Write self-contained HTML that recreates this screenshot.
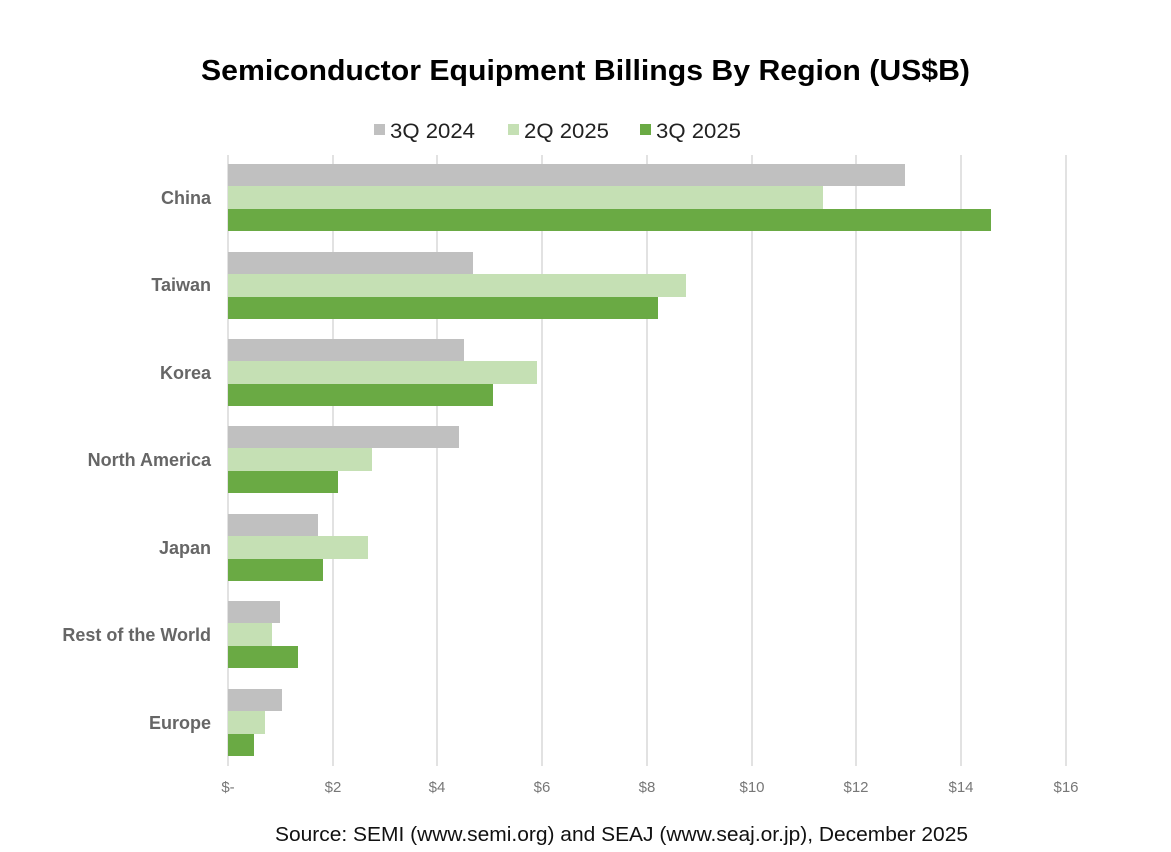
<!DOCTYPE html>
<html><head><meta charset="utf-8"><style>
html,body{margin:0;padding:0;background:#fff;}
svg{display:block;font-family:"Liberation Sans",Arial,sans-serif;}
</style></head><body>
<svg width="1171" height="852" viewBox="0 0 1171 852" xmlns="http://www.w3.org/2000/svg">
<rect width="1171" height="852" fill="#fff"/>
<text x="201" y="80" font-size="29" font-weight="bold" fill="#000" textLength="769" lengthAdjust="spacingAndGlyphs">Semiconductor Equipment Billings By Region (US$B)</text>
<rect x="374" y="124" width="11" height="11" fill="#c0c0c0"/>
<text x="390" y="138" font-size="21" fill="#222" textLength="85" lengthAdjust="spacingAndGlyphs">3Q 2024</text>
<rect x="508" y="124" width="11" height="11" fill="#c5e0b4"/>
<text x="524" y="138" font-size="21" fill="#222" textLength="85" lengthAdjust="spacingAndGlyphs">2Q 2025</text>
<rect x="640" y="124" width="11" height="11" fill="#6aaa44"/>
<text x="656" y="138" font-size="21" fill="#222" textLength="85" lengthAdjust="spacingAndGlyphs">3Q 2025</text>
<g stroke="#d9d9d9" stroke-width="1.5">
<line x1="228" y1="155" x2="228" y2="766"/>
<line x1="333" y1="155" x2="333" y2="766"/>
<line x1="437" y1="155" x2="437" y2="766"/>
<line x1="542" y1="155" x2="542" y2="766"/>
<line x1="647" y1="155" x2="647" y2="766"/>
<line x1="752" y1="155" x2="752" y2="766"/>
<line x1="856" y1="155" x2="856" y2="766"/>
<line x1="961" y1="155" x2="961" y2="766"/>
<line x1="1066" y1="155" x2="1066" y2="766"/>
</g>
<g>
<rect x="228" y="164" width="677" height="22" fill="#c0c0c0"/>
<rect x="228" y="186" width="595" height="23" fill="#c5e0b4"/>
<rect x="228" y="209" width="763" height="22" fill="#6aaa44"/>
<rect x="228" y="252" width="245" height="22" fill="#c0c0c0"/>
<rect x="228" y="274" width="458" height="23" fill="#c5e0b4"/>
<rect x="228" y="297" width="430" height="22" fill="#6aaa44"/>
<rect x="228" y="339" width="236" height="22" fill="#c0c0c0"/>
<rect x="228" y="361" width="309" height="23" fill="#c5e0b4"/>
<rect x="228" y="384" width="265" height="22" fill="#6aaa44"/>
<rect x="228" y="426" width="231" height="22" fill="#c0c0c0"/>
<rect x="228" y="448" width="144" height="23" fill="#c5e0b4"/>
<rect x="228" y="471" width="110" height="22" fill="#6aaa44"/>
<rect x="228" y="514" width="90" height="22" fill="#c0c0c0"/>
<rect x="228" y="536" width="140" height="23" fill="#c5e0b4"/>
<rect x="228" y="559" width="95" height="22" fill="#6aaa44"/>
<rect x="228" y="601" width="52" height="22" fill="#c0c0c0"/>
<rect x="228" y="623" width="44" height="23" fill="#c5e0b4"/>
<rect x="228" y="646" width="70" height="22" fill="#6aaa44"/>
<rect x="228" y="689" width="54" height="22" fill="#c0c0c0"/>
<rect x="228" y="711" width="37" height="23" fill="#c5e0b4"/>
<rect x="228" y="734" width="26" height="22" fill="#6aaa44"/>
</g>
<g font-size="18" font-weight="bold" fill="#666" text-anchor="end">
<text x="211" y="204">China</text>
<text x="211" y="291">Taiwan</text>
<text x="211" y="379">Korea</text>
<text x="211" y="466">North America</text>
<text x="211" y="554">Japan</text>
<text x="211" y="641">Rest of the World</text>
<text x="211" y="729">Europe</text>
</g>
<g font-size="15" fill="#777" text-anchor="middle">
<text x="228" y="792">$-</text>
<text x="333" y="792">$2</text>
<text x="437" y="792">$4</text>
<text x="542" y="792">$6</text>
<text x="647" y="792">$8</text>
<text x="752" y="792">$10</text>
<text x="856" y="792">$12</text>
<text x="961" y="792">$14</text>
<text x="1066" y="792">$16</text>
</g>
<text x="275" y="841" font-size="20" fill="#111" textLength="693" lengthAdjust="spacingAndGlyphs">Source: SEMI (www.semi.org) and SEAJ (www.seaj.or.jp), December 2025</text>
</svg>
</body></html>
